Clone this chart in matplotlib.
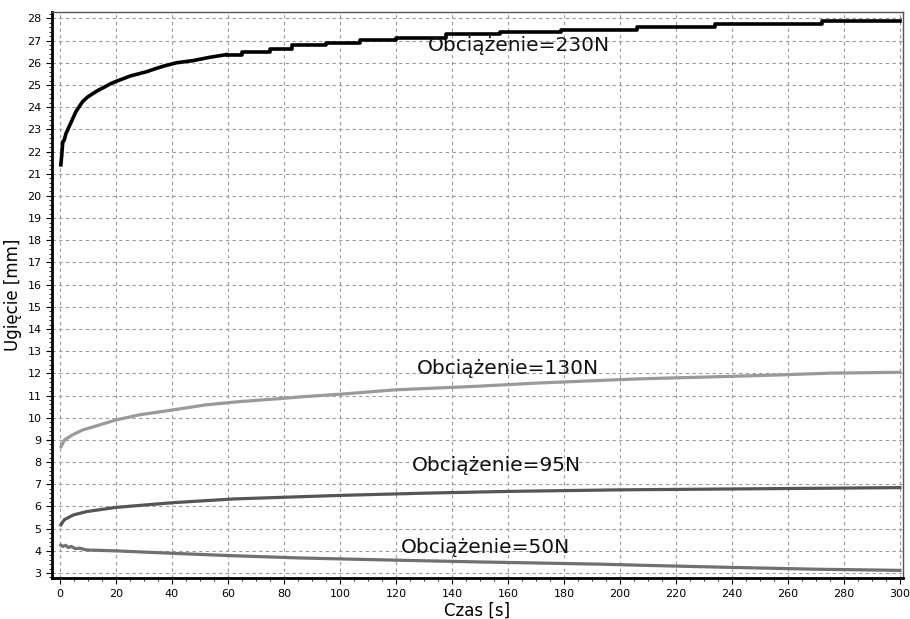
import numpy as np
import matplotlib
matplotlib.use("Agg")
import matplotlib.pyplot as plt
from matplotlib.ticker import MultipleLocator

# odczyty z wykresu (czas [s], ugiecie [mm])
t_230 = [0.3, 0.6, 1.0, 1.5, 2.1, 3.0, 3.9, 4.8, 5.7, 7.0, 8.1, 9.8, 11.6, 13.5, 15.8,
         18, 20, 22.5, 25, 28, 31, 34, 37, 41.6, 47.6, 53.6, 59.5, 65, 75, 83, 95,
         107, 120, 138, 157, 179, 206, 234, 272, 300]
u_230 = [21.4, 21.8, 22.45, 22.5, 22.8, 23.05, 23.3, 23.55, 23.8, 24.05, 24.25, 24.45,
         24.6, 24.75, 24.9, 25.05, 25.16, 25.28, 25.4, 25.5, 25.6, 25.73, 25.85, 26.0,
         26.1, 26.25, 26.37, 26.48, 26.63, 26.78, 26.9, 27.02, 27.13, 27.28, 27.38,
         27.5, 27.6, 27.76, 27.88, 27.88]

t_130 = [0.4, 1.6, 4.5, 8.1, 12.9, 20, 28.3, 40.2, 52, 64.3, 76.2, 88, 100, 120,
         147.5, 170, 206, 238, 257, 275, 300]
u_130 = [8.70, 9.0, 9.23, 9.45, 9.63, 9.9, 10.13, 10.35, 10.58, 10.73, 10.84, 10.96,
         11.06, 11.26, 11.41, 11.56, 11.75, 11.86, 11.93, 12.01, 12.05]

t_95 = [0.3, 1.5, 4.8, 9.5, 20, 40.2, 62, 85.7, 100, 130, 160, 200, 250, 300]
u_95 = [5.17, 5.4, 5.62, 5.77, 5.96, 6.17, 6.34, 6.44, 6.5, 6.6, 6.68, 6.75, 6.8, 6.85]

t_50 = [0.3, 1.0, 2.0, 3.0, 4.0, 5.5, 7.0, 9.5, 20, 40, 62, 85.7, 120, 150, 193,
        211, 234.5, 256, 271, 295, 300]
u_50 = [4.26, 4.2, 4.25, 4.15, 4.2, 4.1, 4.12, 4.04, 4.0, 3.89, 3.78, 3.68, 3.58,
        3.5, 3.4, 3.34, 3.27, 3.21, 3.17, 3.13, 3.12]

labels = ["Obciążenie=230N", "Obciążenie=130N", "Obciążenie=95N", "Obciążenie=50N"]
label_pos = [(164, 26.8), (160, 12.2), (156, 7.87), (152, 4.13)]

fig = plt.figure(figsize=(9.1, 6.19), dpi=100)
ax = fig.add_axes([0.057, 0.066, 0.935, 0.915])

# poczatek gladko, potem schodki jak w rejestratorze
k = 27
ax.plot(t_230[:k], u_230[:k], color="black", lw=2.6)
ax.plot(t_230[k - 1:], u_230[k - 1:], drawstyle="steps-post", color="black", lw=2.6)
ax.plot(t_130, u_130, color="#9a9a9a", lw=2.3)
ax.plot(t_95, u_95, color="#555555", lw=2.3)
ax.plot(t_50, u_50, color="#707070", lw=2.3)

for txt, (x, y) in zip(labels, label_pos):
    ax.text(x, y, txt, ha="center", va="center", fontsize=14.5, color="#111111")

ax.set_xlim(-2.9, 301)
ax.set_ylim(2.77, 28.3)
ax.xaxis.set_major_locator(MultipleLocator(20))
ax.xaxis.set_minor_locator(MultipleLocator(5))
ax.yaxis.set_major_locator(MultipleLocator(1))
ax.yaxis.set_minor_locator(MultipleLocator(0.2))
ax.tick_params(labelsize=8, length=4)
ax.tick_params(which="minor", length=2)

ax.grid(True, which="major", color="#999999", linestyle=(0, (3, 3)), lw=0.8)

for s in ["left", "bottom"]:
    ax.spines[s].set_linewidth(2)
    ax.spines[s].set_color("black")
for s in ["top", "right"]:
    ax.spines[s].set_linewidth(1)
    ax.spines[s].set_color("#555555")

ax.set_xlabel("Czas [s]", fontsize=12, labelpad=2)
ax.set_ylabel("Ugięcie [mm]", fontsize=12, labelpad=4)

fig.savefig("out.png", dpi=100)
